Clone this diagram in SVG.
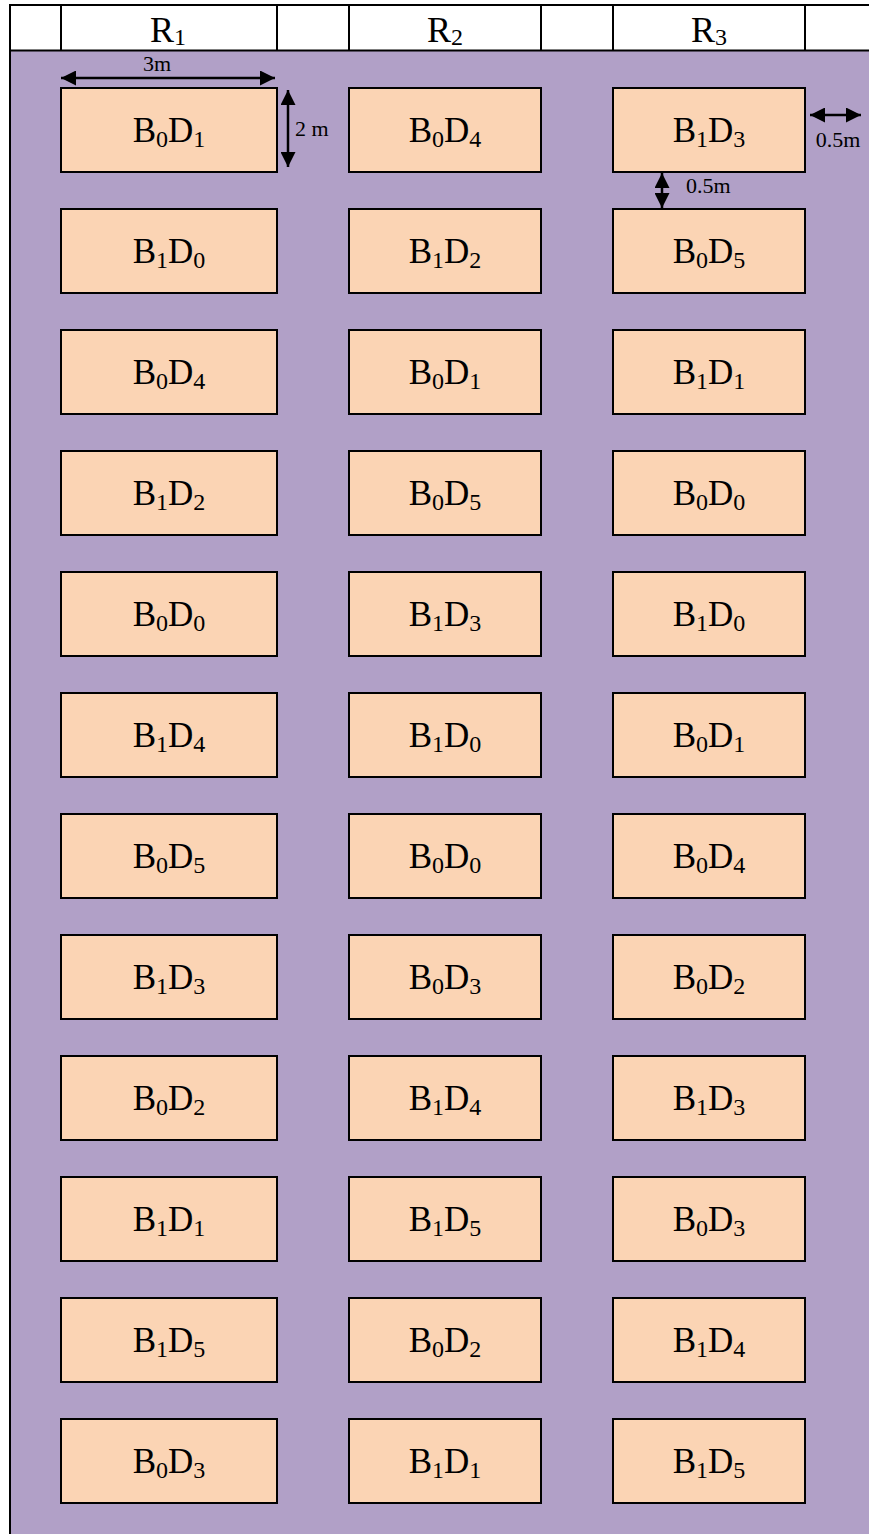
<svg xmlns="http://www.w3.org/2000/svg" width="869" height="1534" viewBox="0 0 869 1534">
<style>
.bg{fill:#B1A0C7}
.hdr{fill:#FFFFFF}
.ln{stroke:#000;stroke-width:2;fill:none}
.box{fill:#FBD4B4;stroke:#000;stroke-width:2}
.t{font-family:"Liberation Serif","Times New Roman",serif;font-size:35px;fill:#000;text-anchor:middle}
.s{font-size:24px}
.h{font-family:"Liberation Serif","Times New Roman",serif;font-size:36px;fill:#000;text-anchor:middle}
.hs{font-size:24px}
.lab{font-family:"Liberation Serif","Times New Roman",serif;font-size:22px;fill:#000}
.dim{stroke:#000;stroke-width:2.5;fill:none;marker-start:url(#ah);marker-end:url(#ah)}
</style>
<defs>
<marker id="ah" viewBox="0 0 10 10" refX="10" refY="5" markerUnits="userSpaceOnUse" markerWidth="15" markerHeight="15" orient="auto-start-reverse">
<path d="M0,0 L10,5 L0,10 z" fill="#000"/>
</marker>
</defs>
<g id="background">
<rect class="hdr" x="10" y="5" width="859" height="46"/>
<rect class="bg" x="10" y="51" width="859" height="1483"/>
<line class="ln" x1="10" y1="5" x2="869" y2="5"/>
<line class="ln" x1="10" y1="50.5" x2="869" y2="50.5"/>
<line class="ln" x1="10" y1="4" x2="10" y2="1534"/>
<line class="ln" x1="61" y1="5" x2="61" y2="50"/>
<line class="ln" x1="277" y1="5" x2="277" y2="50"/>
<line class="ln" x1="349" y1="5" x2="349" y2="50"/>
<line class="ln" x1="541" y1="5" x2="541" y2="50"/>
<line class="ln" x1="613" y1="5" x2="613" y2="50"/>
<line class="ln" x1="805" y1="5" x2="805" y2="50"/>
</g>
<g id="header">
<text class="h" x="168" y="41.7">R<tspan class="hs" dy="3.5">1</tspan></text>
<text class="h" x="445" y="41.7">R<tspan class="hs" dy="3.5">2</tspan></text>
<text class="h" x="709" y="41.7">R<tspan class="hs" dy="3.5">3</tspan></text>
</g>
<g id="r1c1"><rect class="box" x="61" y="88" width="216" height="84"/><text class="t" x="169" y="142">B<tspan class="s" dy="5">0</tspan><tspan dy="-5">D</tspan><tspan class="s" dy="5">1</tspan></text></g>
<g id="r1c2"><rect class="box" x="349" y="88" width="192" height="84"/><text class="t" x="445" y="142">B<tspan class="s" dy="5">0</tspan><tspan dy="-5">D</tspan><tspan class="s" dy="5">4</tspan></text></g>
<g id="r1c3"><rect class="box" x="613" y="88" width="192" height="84"/><text class="t" x="709" y="142">B<tspan class="s" dy="5">1</tspan><tspan dy="-5">D</tspan><tspan class="s" dy="5">3</tspan></text></g>
<g id="r2c1"><rect class="box" x="61" y="209" width="216" height="84"/><text class="t" x="169" y="263">B<tspan class="s" dy="5">1</tspan><tspan dy="-5">D</tspan><tspan class="s" dy="5">0</tspan></text></g>
<g id="r2c2"><rect class="box" x="349" y="209" width="192" height="84"/><text class="t" x="445" y="263">B<tspan class="s" dy="5">1</tspan><tspan dy="-5">D</tspan><tspan class="s" dy="5">2</tspan></text></g>
<g id="r2c3"><rect class="box" x="613" y="209" width="192" height="84"/><text class="t" x="709" y="263">B<tspan class="s" dy="5">0</tspan><tspan dy="-5">D</tspan><tspan class="s" dy="5">5</tspan></text></g>
<g id="r3c1"><rect class="box" x="61" y="330" width="216" height="84"/><text class="t" x="169" y="384">B<tspan class="s" dy="5">0</tspan><tspan dy="-5">D</tspan><tspan class="s" dy="5">4</tspan></text></g>
<g id="r3c2"><rect class="box" x="349" y="330" width="192" height="84"/><text class="t" x="445" y="384">B<tspan class="s" dy="5">0</tspan><tspan dy="-5">D</tspan><tspan class="s" dy="5">1</tspan></text></g>
<g id="r3c3"><rect class="box" x="613" y="330" width="192" height="84"/><text class="t" x="709" y="384">B<tspan class="s" dy="5">1</tspan><tspan dy="-5">D</tspan><tspan class="s" dy="5">1</tspan></text></g>
<g id="r4c1"><rect class="box" x="61" y="451" width="216" height="84"/><text class="t" x="169" y="505">B<tspan class="s" dy="5">1</tspan><tspan dy="-5">D</tspan><tspan class="s" dy="5">2</tspan></text></g>
<g id="r4c2"><rect class="box" x="349" y="451" width="192" height="84"/><text class="t" x="445" y="505">B<tspan class="s" dy="5">0</tspan><tspan dy="-5">D</tspan><tspan class="s" dy="5">5</tspan></text></g>
<g id="r4c3"><rect class="box" x="613" y="451" width="192" height="84"/><text class="t" x="709" y="505">B<tspan class="s" dy="5">0</tspan><tspan dy="-5">D</tspan><tspan class="s" dy="5">0</tspan></text></g>
<g id="r5c1"><rect class="box" x="61" y="572" width="216" height="84"/><text class="t" x="169" y="626">B<tspan class="s" dy="5">0</tspan><tspan dy="-5">D</tspan><tspan class="s" dy="5">0</tspan></text></g>
<g id="r5c2"><rect class="box" x="349" y="572" width="192" height="84"/><text class="t" x="445" y="626">B<tspan class="s" dy="5">1</tspan><tspan dy="-5">D</tspan><tspan class="s" dy="5">3</tspan></text></g>
<g id="r5c3"><rect class="box" x="613" y="572" width="192" height="84"/><text class="t" x="709" y="626">B<tspan class="s" dy="5">1</tspan><tspan dy="-5">D</tspan><tspan class="s" dy="5">0</tspan></text></g>
<g id="r6c1"><rect class="box" x="61" y="693" width="216" height="84"/><text class="t" x="169" y="747">B<tspan class="s" dy="5">1</tspan><tspan dy="-5">D</tspan><tspan class="s" dy="5">4</tspan></text></g>
<g id="r6c2"><rect class="box" x="349" y="693" width="192" height="84"/><text class="t" x="445" y="747">B<tspan class="s" dy="5">1</tspan><tspan dy="-5">D</tspan><tspan class="s" dy="5">0</tspan></text></g>
<g id="r6c3"><rect class="box" x="613" y="693" width="192" height="84"/><text class="t" x="709" y="747">B<tspan class="s" dy="5">0</tspan><tspan dy="-5">D</tspan><tspan class="s" dy="5">1</tspan></text></g>
<g id="r7c1"><rect class="box" x="61" y="814" width="216" height="84"/><text class="t" x="169" y="868">B<tspan class="s" dy="5">0</tspan><tspan dy="-5">D</tspan><tspan class="s" dy="5">5</tspan></text></g>
<g id="r7c2"><rect class="box" x="349" y="814" width="192" height="84"/><text class="t" x="445" y="868">B<tspan class="s" dy="5">0</tspan><tspan dy="-5">D</tspan><tspan class="s" dy="5">0</tspan></text></g>
<g id="r7c3"><rect class="box" x="613" y="814" width="192" height="84"/><text class="t" x="709" y="868">B<tspan class="s" dy="5">0</tspan><tspan dy="-5">D</tspan><tspan class="s" dy="5">4</tspan></text></g>
<g id="r8c1"><rect class="box" x="61" y="935" width="216" height="84"/><text class="t" x="169" y="989">B<tspan class="s" dy="5">1</tspan><tspan dy="-5">D</tspan><tspan class="s" dy="5">3</tspan></text></g>
<g id="r8c2"><rect class="box" x="349" y="935" width="192" height="84"/><text class="t" x="445" y="989">B<tspan class="s" dy="5">0</tspan><tspan dy="-5">D</tspan><tspan class="s" dy="5">3</tspan></text></g>
<g id="r8c3"><rect class="box" x="613" y="935" width="192" height="84"/><text class="t" x="709" y="989">B<tspan class="s" dy="5">0</tspan><tspan dy="-5">D</tspan><tspan class="s" dy="5">2</tspan></text></g>
<g id="r9c1"><rect class="box" x="61" y="1056" width="216" height="84"/><text class="t" x="169" y="1110">B<tspan class="s" dy="5">0</tspan><tspan dy="-5">D</tspan><tspan class="s" dy="5">2</tspan></text></g>
<g id="r9c2"><rect class="box" x="349" y="1056" width="192" height="84"/><text class="t" x="445" y="1110">B<tspan class="s" dy="5">1</tspan><tspan dy="-5">D</tspan><tspan class="s" dy="5">4</tspan></text></g>
<g id="r9c3"><rect class="box" x="613" y="1056" width="192" height="84"/><text class="t" x="709" y="1110">B<tspan class="s" dy="5">1</tspan><tspan dy="-5">D</tspan><tspan class="s" dy="5">3</tspan></text></g>
<g id="r10c1"><rect class="box" x="61" y="1177" width="216" height="84"/><text class="t" x="169" y="1231">B<tspan class="s" dy="5">1</tspan><tspan dy="-5">D</tspan><tspan class="s" dy="5">1</tspan></text></g>
<g id="r10c2"><rect class="box" x="349" y="1177" width="192" height="84"/><text class="t" x="445" y="1231">B<tspan class="s" dy="5">1</tspan><tspan dy="-5">D</tspan><tspan class="s" dy="5">5</tspan></text></g>
<g id="r10c3"><rect class="box" x="613" y="1177" width="192" height="84"/><text class="t" x="709" y="1231">B<tspan class="s" dy="5">0</tspan><tspan dy="-5">D</tspan><tspan class="s" dy="5">3</tspan></text></g>
<g id="r11c1"><rect class="box" x="61" y="1298" width="216" height="84"/><text class="t" x="169" y="1352">B<tspan class="s" dy="5">1</tspan><tspan dy="-5">D</tspan><tspan class="s" dy="5">5</tspan></text></g>
<g id="r11c2"><rect class="box" x="349" y="1298" width="192" height="84"/><text class="t" x="445" y="1352">B<tspan class="s" dy="5">0</tspan><tspan dy="-5">D</tspan><tspan class="s" dy="5">2</tspan></text></g>
<g id="r11c3"><rect class="box" x="613" y="1298" width="192" height="84"/><text class="t" x="709" y="1352">B<tspan class="s" dy="5">1</tspan><tspan dy="-5">D</tspan><tspan class="s" dy="5">4</tspan></text></g>
<g id="r12c1"><rect class="box" x="61" y="1419" width="216" height="84"/><text class="t" x="169" y="1473">B<tspan class="s" dy="5">0</tspan><tspan dy="-5">D</tspan><tspan class="s" dy="5">3</tspan></text></g>
<g id="r12c2"><rect class="box" x="349" y="1419" width="192" height="84"/><text class="t" x="445" y="1473">B<tspan class="s" dy="5">1</tspan><tspan dy="-5">D</tspan><tspan class="s" dy="5">1</tspan></text></g>
<g id="r12c3"><rect class="box" x="613" y="1419" width="192" height="84"/><text class="t" x="709" y="1473">B<tspan class="s" dy="5">1</tspan><tspan dy="-5">D</tspan><tspan class="s" dy="5">5</tspan></text></g>
<g id="dimensions">
<line class="dim" x1="61" y1="78" x2="275" y2="78"/>
<text class="lab" x="157" y="71" text-anchor="middle">3m</text>
<line class="dim" x1="288" y1="90" x2="288" y2="167"/>
<text class="lab" x="295" y="136">2 m</text>
<line class="dim" x1="810" y1="115" x2="861" y2="115"/>
<text class="lab" x="838" y="147" text-anchor="middle">0.5m</text>
<line class="dim" x1="662" y1="173" x2="662" y2="208"/>
<text class="lab" x="686" y="193">0.5m</text>
</g>
</svg>
